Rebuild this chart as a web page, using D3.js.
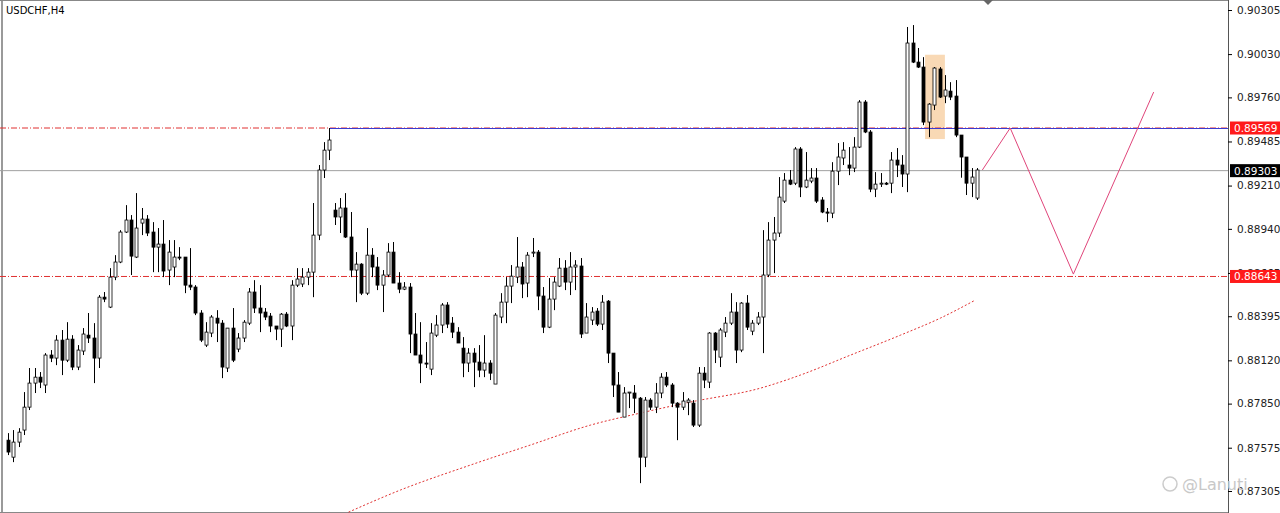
<!DOCTYPE html>
<html>
<head>
<meta charset="utf-8">
<script src="https://cdn.jsdelivr.net/npm/d3@7"></script>
<style>
  body { margin: 0; background: #fff; }
  text { font-family: Tahoma, "DejaVu Sans", sans-serif; }
</style>
</head>
<body>
<svg id="chart" width="1280" height="513"></svg>
<script>
// price points (x 1e-5): open, high, low, close
var opens = [87622,87516,87610,87685,87828,87978,88015,87966,88153,88134,88246,88121,88252,88078,88178,88277,88259,88134,88514,88452,88639,88733,88920,88995,88764,88976,89001,88920,88826,88845,88683,88702,88764,88764,88589,88577,88415,88215,88290,88383,88352,88072,88321,88190,88259,88352,88546,88446,88421,88396,88334,88315,88408,88334,88589,88596,88639,88670,88901,89307,89431,
  89057,89014,89070,88889,88683,88720,88539,88776,88702,88589,88652,88795,88602,88564,88577,88284,88153,88103,88065,88277,88340,88465,88352,88296,88196,88103,88165,88109,88059,88103,87972,88390,88483,88583,88639,88702,88602,88789,88795,88521,88327,88502,88583,88695,88608,88702,88708,88290,88371,88427,88346,88489,88165,87966,87766,87916,87916,87884,87516,87872,87828,87916,88015,
  87966,87853,87828,87859,87853,87716,88040,87984,88290,88140,88296,88352,88421,88184,88477,88302,88352,88390,88652,88870,88914,89113,89244,89225,89438,89201,89238,89257,89120,89045,89038,89300,89382,89338,89319,89450,89731,89544,89188,89219,89225,89225,89369,89338,89282,90099,89980,89949,89606,89712,89937,89768,89799,89768,89525,89388,89225,89132];
var highs = [87666,87685,87697,87922,88072,88072,88047,88165,88184,88277,88309,88358,88277,88215,88321,88415,88352,88527,88546,88695,88776,88932,89088,89026,89163,89070,89026,88982,88945,88995,88870,88870,88826,88764,88820,88589,88433,88358,88402,88433,88371,88321,88446,88290,88371,88571,88620,88589,88446,88415,88334,88415,88421,88620,88695,88695,88695,89101,89338,89481,89569,
  89101,89132,89163,89045,88795,88726,88945,88820,88764,88683,88851,88858,88670,88608,88602,88415,88358,88234,88352,88402,88477,88483,88390,88327,88265,88196,88196,88215,88277,88121,88415,88539,88639,88714,88889,88733,88795,88883,88808,88577,88633,88639,88758,88745,88795,88745,88758,88477,88452,88446,88527,88496,88165,88047,87953,87922,87966,87891,87891,87884,87978,88040,88047,
  87978,87859,87922,87884,87872,88078,88078,88296,88296,88321,88390,88539,88483,88483,88527,88371,88421,88932,88982,89014,89263,89288,89307,89450,89450,89419,89319,89319,89138,89070,89356,89475,89481,89450,89512,89743,89743,89556,89294,89288,89232,89419,89444,89400,90199,90211,90068,90011,89724,89949,89949,89899,89855,89868,89525,89388,89319,89319];
var lows = [87529,87485,87579,87654,87810,87916,87947,87916,88109,88090,88028,88109,88059,88059,88153,88228,87978,88072,88483,88446,88620,88726,88914,88652,88758,88901,88895,88670,88670,88639,88589,88639,88745,88539,88558,88402,88234,88203,88265,88234,88009,88047,88109,88171,88234,88340,88415,88296,88371,88296,88246,88203,88327,88246,88577,88577,88589,88514,88870,89257,89369,
  88964,88914,88883,88639,88483,88527,88527,88639,88558,88421,88639,88602,88539,88558,88165,88153,87978,88072,88028,88265,88290,88321,88259,88228,88015,88047,87953,88015,88015,87997,87972,88352,88352,88477,88602,88508,88514,88764,88433,88290,88321,88433,88577,88558,88527,88558,88259,88290,88340,88334,88309,88103,87891,87797,87766,87822,87791,87354,87454,87810,87791,87884,87953,
  87828,87622,87810,87778,87704,87704,87947,87947,88103,88078,88265,88340,88103,88171,88309,88277,88340,88165,88639,88664,88889,89101,89213,89213,89138,89194,89225,89101,89038,88982,89007,89213,89338,89275,89294,89444,89537,89169,89138,89201,89213,89163,89263,89201,89169,89974,89943,89587,89512,89681,89756,89724,89743,89512,89259,89151,89138,89120];
var closes = [87548,87610,87672,87828,87978,88015,87984,88153,88134,88246,88121,88252,88078,88184,88284,88259,88134,88514,88502,88639,88733,88920,88995,88770,88945,89001,88914,88826,88845,88677,88795,88764,88758,88589,88577,88415,88246,88296,88390,88352,88078,88321,88121,88259,88358,88546,88446,88415,88390,88334,88315,88408,88334,88589,88627,88639,88670,88901,89307,89431,89494,
  89014,89070,88889,88683,88720,88539,88776,88702,88589,88652,88795,88602,88564,88577,88284,88153,88103,88097,88290,88340,88465,88346,88296,88228,88103,88165,88109,88059,88103,88040,88402,88483,88583,88645,88702,88596,88776,88795,88521,88327,88502,88608,88695,88608,88702,88714,88284,88390,88421,88346,88483,88165,87966,87797,87916,87922,87884,87516,87872,87828,87916,88015,87966,
  87853,87828,87866,87872,87716,88040,87997,88290,88184,88309,88352,88421,88184,88477,88327,88352,88390,88652,88870,88914,89138,89244,89219,89438,89201,89244,89257,89113,89045,89038,89300,89388,89431,89319,89450,89731,89544,89188,89219,89225,89219,89369,89338,89282,90099,89980,89949,89606,89718,89943,89762,89806,89762,89525,89388,89225,89263,89307];

var tickValues = [0.90305,0.90030,0.89760,0.89485,0.89210,0.88940,0.88665,0.88395,0.88120,0.87850,0.87575,0.87305];
var resistance = 0.89569, support = 0.88643, bid = 0.89303;
// red dotted moving average: [bar index, price]
var maIdx = [63.6,73.3,86.4,97.6,108.8,118.1,127.5,140.6,148,157.4,166.7,174.2,180.7];
var maVal = [0.87173,0.87311,0.87467,0.87592,0.87716,0.87791,0.87860,0.87947,0.88028,0.88153,0.88277,0.88384,0.88496];
// pink projected zigzag
var zzIdx = [182,187.2,199,214];
var zzVal = [0.89307,0.89569,0.88658,0.89793];
// highlighted box (bar range, price range)
var boxIdx = [171.3,175], boxVal = [0.90026,0.89500];

var svg = d3.select("#chart");
var W = 1228;
var x = d3.scaleLinear().domain([0, 181]).range([8, 977]);
var y = d3.scaleLinear().domain([0.87305, 0.90305]).range([491, 10]);
var py = p => y(p / 1e5);

// frame
svg.append("line").attr("x1",2).attr("x2",2).attr("y1",0).attr("y2",513).attr("stroke","#9a9a9a").attr("stroke-width",2);
svg.append("line").attr("x1",0).attr("x2",W).attr("y1",0.5).attr("y2",0.5).attr("stroke","#888");
svg.append("line").attr("x1",0).attr("x2",W).attr("y1",512.5).attr("y2",512.5).attr("stroke","#888");

// highlight box
svg.append("rect").attr("x", x(boxIdx[0])).attr("width", x(boxIdx[1]) - x(boxIdx[0]))
  .attr("y", y(boxVal[0])).attr("height", y(boxVal[1]) - y(boxVal[0]))
  .attr("fill", "#f7c995").attr("opacity", 0.7);

// levels
svg.append("line").attr("x1",0).attr("x2",W).attr("y1",y(bid)).attr("y2",y(bid)).attr("stroke","#a0a0a0");
svg.append("line").attr("x1",0).attr("x2",W).attr("y1",y(support)).attr("y2",y(support))
  .attr("stroke","#e03030").attr("stroke-dasharray","6,2,1,2");
svg.append("line").attr("x1",0).attr("x2",W).attr("y1",y(resistance)).attr("y2",y(resistance))
  .attr("stroke","#e03030").attr("stroke-dasharray","6,2,1,2");
svg.append("line").attr("x1",x(60)).attr("x2",W).attr("y1",y(resistance)+0.5).attr("y2",y(resistance)+0.5)
  .attr("stroke","#3a3ad0");

// moving average
svg.append("path").datum(d3.zip(maIdx, maVal))
  .attr("d", d3.line().x(d => x(d[0])).y(d => y(d[1])).curve(d3.curveMonotoneX))
  .attr("fill","none").attr("stroke","#e03030").attr("stroke-dasharray","2,2");

// candles
var bars = d3.range(closes.length);
var g = svg.append("g");
g.selectAll("line.wick").data(bars).join("line").attr("class", "wick")
  .attr("x1", i => Math.round(x(i)) + 0.5).attr("x2", i => Math.round(x(i)) + 0.5)
  .attr("y1", i => py(highs[i])).attr("y2", i => py(lows[i]))
  .attr("stroke", "#000");
g.selectAll("rect").data(bars).join("rect")
  .attr("x", i => Math.round(x(i)) - 1)
  .attr("width", 3)
  .attr("y", i => py(Math.max(opens[i], closes[i])))
  .attr("height", i => Math.max(1, Math.abs(py(opens[i]) - py(closes[i]))))
  .attr("fill", i => closes[i] >= opens[i] ? "#fff" : "#000")
  .attr("stroke", "#000").attr("stroke-width", 0.8);

// zigzag
svg.append("path").datum(d3.zip(zzIdx, zzVal))
  .attr("d", d3.line().x(d => x(d[0])).y(d => y(d[1])))
  .attr("fill","none").attr("stroke","#e0457a");

// right axis
svg.append("rect").attr("x",W).attr("y",0).attr("width",52).attr("height",513).attr("fill","#fff");
svg.append("line").attr("x1",W+0.5).attr("x2",W+0.5).attr("y1",0).attr("y2",513).attr("stroke","#555");
var axis = svg.append("g").attr("transform","translate(" + W + ",0)")
  .call(d3.axisRight(y).tickValues(tickValues).tickFormat(d3.format(".5f")).tickSize(4));
axis.select(".domain").remove();
axis.selectAll("text").attr("font-size", 10.5).attr("fill", "#222").attr("x", 9);

function priceTag(v, bg) {
  svg.append("rect").attr("x", W + 2).attr("y", y(v) - 6.5).attr("width", 50).attr("height", 13).attr("fill", bg);
  svg.append("text").attr("x", W + 6).attr("y", y(v) + 4).attr("fill", "#fff").attr("font-size", 10.5)
    .text(v.toFixed(5));
}
priceTag(resistance, "#ff1a1a");
priceTag(support, "#ff1a1a");
priceTag(bid, "#000");

// title, marker, watermark
svg.append("text").attr("x", 6).attr("y", 14).attr("font-size", 10).attr("fill", "#000").text("USDCHF,H4");
svg.append("path").attr("d", "M983,0 L993,0 L988,5 Z").attr("fill", "#666");
svg.append("circle").attr("cx", 1170).attr("cy", 484).attr("r", 7).attr("fill", "none").attr("stroke", "#ccc").attr("stroke-width", 1.5);
svg.append("text").attr("x", 1182).attr("y", 490).attr("font-size", 16).attr("fill", "#c8c8c8").text("@Lanuti");
</script>
</body>
</html>
